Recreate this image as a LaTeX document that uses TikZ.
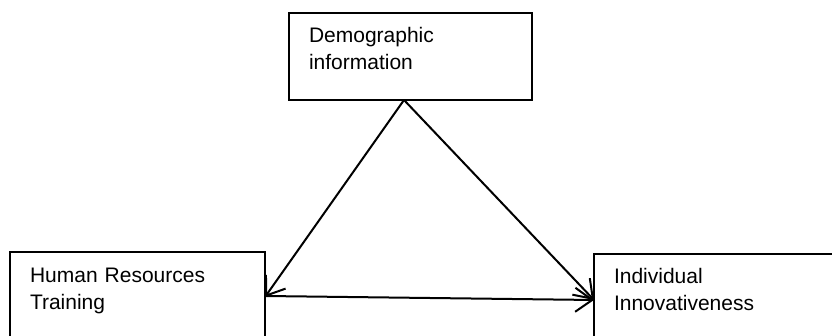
\documentclass[tikz,border=0pt]{standalone}
\usepackage{fontspec}
\setmainfont{Liberation Sans}
\usetikzlibrary{positioning, arrows.meta}

\begin{document}
\begin{tikzpicture}[line width=2pt,x=1pt,y=1pt,
    conn/.style={-{Straight Barb[length=17pt,width=24pt]}},
    box node/.style={rectangle,draw,anchor=north west,align=left,outer sep=0pt,inner xsep=20pt,inner ysep=0pt,
        font=\fontsize{21}{27}\selectfont}]

\useasboundingbox (0,0) rectangle (832,336);
\clip (0,0) rectangle (832,336);

\node[box node, text width=203pt, text height=30pt, text depth=57pt] (demo) at (289,323) {Demographic\\information};
\node[box node, text width=215pt, text height=31pt, text depth=110pt] (hrt) at (10,84) {Human Resources\\Training};
\node[box node, text width=240pt, text height=30pt, text depth=110pt] (ii) at (594,82) {Individual\\Innovativeness};

\coordinate (apex) at ([xshift=-6.5pt]demo.south);

\draw[conn] (apex) -- ([yshift=-45pt]hrt.north east);
\draw[conn] (apex) -- ([yshift=-46pt]ii.north west);
\draw[conn] ([yshift=-44pt]hrt.north east) -- ([yshift=-46pt]ii.north west);
\end{tikzpicture}
\end{document}
